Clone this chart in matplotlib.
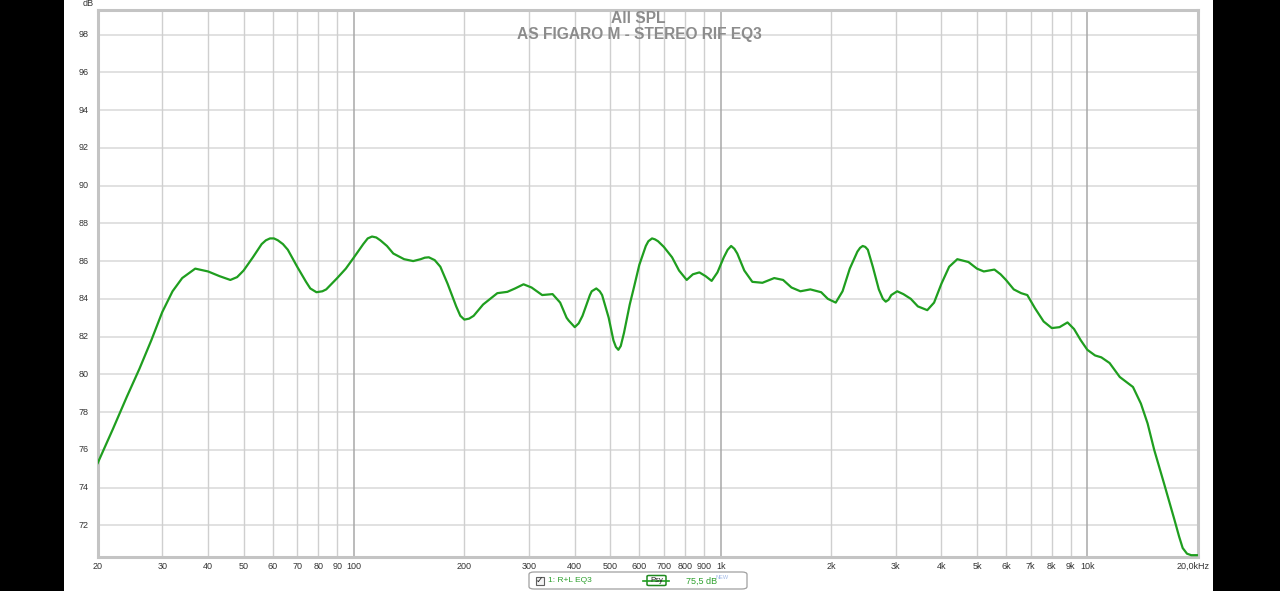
import matplotlib
matplotlib.use("Agg")
import matplotlib.pyplot as plt
from matplotlib.patches import Rectangle, FancyBboxPatch
from matplotlib.lines import Line2D
import matplotlib.transforms as mtransforms

plt.rcParams['font.family'] = ['Liberation Sans', 'DejaVu Sans']

title_lines = ["All SPL", "AS FIGARO M - STEREO RIF EQ3"]
series_name = "1: R+L EQ3"
series_level = "75,5 dB"

freq_hz = [20, 22, 24, 26, 28, 30, 32, 34, 36.9, 40, 43, 46, 48, 50, 53, 56, 57.5, 59, 60.5,
           62, 64, 66, 70, 74, 76, 79, 82, 84, 90, 95, 100, 106, 109, 112, 115, 118, 123,
           128, 137, 145, 152, 156, 160, 166, 172, 180, 190, 195, 200, 206, 212, 225, 246,
           262, 275, 290, 305, 326, 348, 365, 380, 385, 400, 410, 420, 440, 445, 458, 468,
           475, 495, 510, 518, 526, 534, 545, 565, 580, 600, 625, 635, 650, 662, 675, 700,
           737, 770, 808, 840, 875, 910, 945, 980, 1020, 1045, 1068, 1090, 1110, 1160,
           1220, 1300, 1400, 1480, 1560, 1650, 1756, 1880, 1960, 2060, 2150, 2250, 2360,
           2400, 2440, 2480, 2520, 2600, 2700, 2770, 2820, 2870, 2920, 3030, 3150, 3300,
           3450, 3660, 3820, 4000, 4200, 4420, 4740, 5000, 5220, 5580, 5800, 6000, 6300,
           6600, 6860, 7200, 7600, 8000, 8400, 8830, 9200, 9600, 10000, 10500, 10920,
           11500, 12260, 13320, 14000, 14600, 15220, 16200, 17280, 17800, 18200, 18700,
           19200, 20000]
spl_db = [75.3, 77.1, 78.8, 80.3, 81.8, 83.3, 84.4, 85.1, 85.6, 85.45, 85.2, 85.0, 85.15,
          85.5, 86.2, 86.9, 87.1, 87.2, 87.2, 87.1, 86.9, 86.6, 85.7, 84.9, 84.55, 84.35,
          84.4, 84.5, 85.1, 85.6, 86.2, 86.9, 87.2, 87.3, 87.25, 87.1, 86.8, 86.4, 86.1,
          86.0, 86.1, 86.18, 86.2, 86.05, 85.7, 84.8, 83.6, 83.1, 82.9, 82.95, 83.1, 83.7,
          84.3, 84.37, 84.55, 84.77, 84.6, 84.2, 84.25, 83.8, 83.0, 82.85, 82.5, 82.7,
          83.1, 84.2, 84.4, 84.55, 84.4, 84.2, 83.0, 81.8, 81.45, 81.3, 81.5, 82.2, 83.7,
          84.6, 85.8, 86.8, 87.05, 87.2, 87.15, 87.05, 86.75, 86.2, 85.5, 85.0, 85.3,
          85.4, 85.2, 84.95, 85.4, 86.2, 86.6, 86.8, 86.65, 86.4, 85.5, 84.9, 84.85,
          85.1, 85.0, 84.6, 84.4, 84.5, 84.35, 84.0, 83.8, 84.4, 85.6, 86.5, 86.7, 86.8,
          86.75, 86.6, 85.7, 84.5, 84.0, 83.85, 83.95, 84.2, 84.4, 84.25, 84.0, 83.6,
          83.4, 83.8, 84.8, 85.7, 86.1, 85.95, 85.6, 85.45, 85.55, 85.3, 85.0, 84.5,
          84.3, 84.2, 83.5, 82.8, 82.45, 82.5, 82.75, 82.4, 81.8, 81.3, 81.0, 80.9, 80.6,
          79.86, 79.33, 78.45, 77.4, 76.0, 74.2, 72.3, 71.4, 70.8, 70.5, 70.42, 70.42]

y_ticks = [72, 74, 76, 78, 80, 82, 84, 86, 88, 90, 92, 94, 96, 98]
x_ticks = [20, 30, 40, 50, 60, 70, 80, 90, 100, 200, 300, 400, 500, 600, 700, 800, 900,
           1000, 2000, 3000, 4000, 5000, 6000, 7000, 8000, 9000, 10000]
x_tick_labels = ["20", "30", "40", "50", "60", "70", "80", "90", "100", "200", "300", "400",
                 "500", "600", "700", "800", "900", "1k", "2k", "3k", "4k", "5k", "6k",
                 "7k", "8k", "9k", "10k"]
x_end_label = "20,0kHz"

W, H = 1280, 591
fig = plt.figure(figsize=(W / 100, H / 100), dpi=100)
fig.patch.set_facecolor('white')

# black side bars
fig.patches.append(Rectangle((0, 0), 64 / W, 1, transform=fig.transFigure,
                             facecolor='black', edgecolor='none', zorder=0))
fig.patches.append(Rectangle((1213 / W, 0), 1 - 1213 / W, 1, transform=fig.transFigure,
                             facecolor='black', edgecolor='none', zorder=0))

left, right, top, bottom = 97.7, 1197.7, 10, 556.7
ax = fig.add_axes([left / W, (H - bottom) / H, (right - left) / W, (bottom - top) / H])
ax.set_xscale('log')
ax.set_xlim(20, 20000)
ax.set_ylim(70.34, 99.3)
ax.set_facecolor('white')

# grid
for yv in y_ticks:
    ax.axhline(yv, color='#d9d9d9', lw=1.1, zorder=1)
for f in x_ticks:
    if f in (100, 1000, 10000):
        ax.axvline(f, color='#a8a8a8', lw=1.1, zorder=1.2)
    elif f == 20:
        continue
    else:
        ax.axvline(f, color='#cfcfcf', lw=1.0, zorder=1.1)

ax.plot(freq_hz, spl_db, color='#1f9e1f', lw=1.6, zorder=3, solid_joinstyle='round')

ax.set_xticks([])
ax.set_yticks([])
ax.minorticks_off()
for s in ax.spines.values():
    s.set_color('#c4c4c4')
    s.set_linewidth(2.2)

tick_color = '#333333'
tfs = 6.5
ytr = mtransforms.blended_transform_factory(ax.transAxes, ax.transData)
for yv in y_ticks:
    ax.text(-9 / (right - left), yv, str(yv), transform=ytr, ha='right', va='center',
            fontsize=tfs, color=tick_color)
xtr = mtransforms.blended_transform_factory(ax.transData, ax.transAxes)
for f, lab in zip(x_ticks, x_tick_labels):
    ax.text(f, -9.5 / (bottom - top), lab, transform=xtr, ha='center', va='center',
            fontsize=tfs, color=tick_color)
ax.text(20000 * 10 ** (-5 / 366.4), -9.5 / (bottom - top), x_end_label, transform=xtr,
        ha='center', va='center', fontsize=tfs, color=tick_color)
fig.text(88 / W, 1 - 3.5 / H, "dB", ha='center', va='center', fontsize=tfs, color=tick_color)

# title
fig.text(638 / W, 1 - 18.5 / H, title_lines[0], ha='center', va='center', fontsize=11.2,
         color='#8c8c8c', weight='bold')
fig.text(639 / W, 1 - 34.5 / H, title_lines[1], ha='center', va='center', fontsize=11.2,
         color='#8c8c8c', weight='bold')

# legend box
fig.patches.append(FancyBboxPatch((529 / W, 1 - 589 / H), 218 / W, 17 / H,
                                  boxstyle='round,pad=0,rounding_size=0.004',
                                  transform=fig.transFigure, facecolor='white',
                                  edgecolor='#a0a0a0', lw=0.9))
fig.patches.append(Rectangle((535.5 / W, 1 - 584.5 / H), 8 / W, 8 / H, transform=fig.transFigure,
                             facecolor='#f4f4f4', edgecolor='#606060', lw=0.8))
fig.text(539.5 / W, 1 - 580.5 / H, "\u2713", ha='center', va='center', fontsize=6.5,
         color='#222222', family=['DejaVu Sans'])
fig.text(548 / W, 1 - 580.5 / H, series_name, ha='left', va='center', fontsize=6,
         color='#2ca02c')
fig.lines.append(Line2D([643 / W, 669 / W], [1 - 580.5 / H, 1 - 580.5 / H],
                        transform=fig.transFigure, color='#1f9e1f', lw=1.2))
fig.patches.append(FancyBboxPatch((647 / W, 1 - 585.5 / H), 19 / W, 10 / H,
                                  boxstyle='round,pad=0,rounding_size=0.0015',
                                  transform=fig.transFigure, facecolor='white',
                                  edgecolor='#1f8a1f', lw=1.1))
fig.text(656.5 / W, 1 - 580.5 / H, "Psy", ha='center', va='center', fontsize=5.5,
         color='#222222')
fig.text(686 / W, 1 - 581 / H, series_level, ha='left', va='center', fontsize=6.5,
         color='#2ca02c')
fig.text(716 / W, 1 - 577.5 / H, "NEW", ha='left', va='center', fontsize=4,
         color='#9fb8e6')

fig.savefig('out.png', dpi=100, facecolor='white')
